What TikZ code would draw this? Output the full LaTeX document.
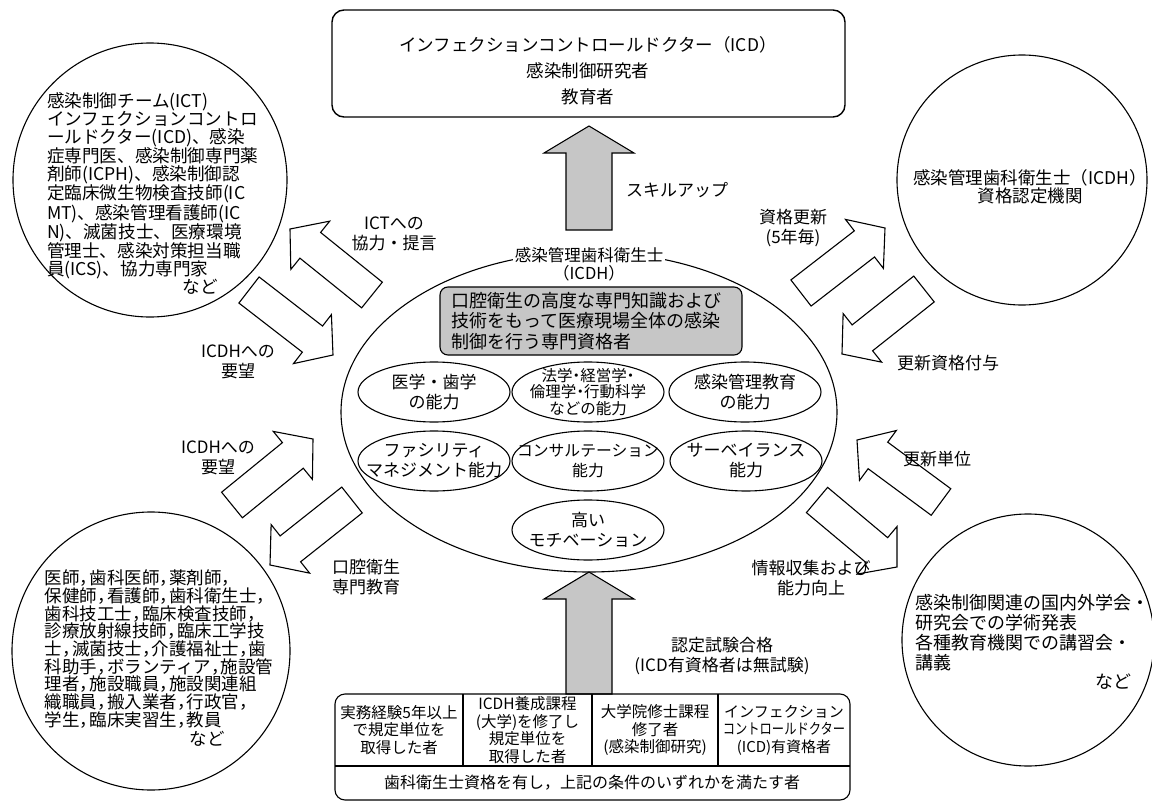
\documentclass[tikz,border=0pt]{standalone}
\usepackage{fontspec}
\usepackage{graphicx}
\setmainfont{Noto Sans CJK JP}
\usetikzlibrary{shapes.geometric,calc}
\newcommand\fsz[2]{\fontsize{#1}{#2}\selectfont}
\newcommand\nc{\makebox[0.55em][l]{，}}
\newcommand\nd{\makebox[0.5em][c]{・}}
% #1 style, #2 tail, #3 tip, #4 shaft half width, #5 head half width, #6 head length
\newcommand\blockarrow[6]{%
  \path ($(#3)!#6!(#2)$) coordinate (#2-hb);
  \draw[#1] ($(#2)!#4!90:(#3)$) -- ($(#2-hb)!#4!90:(#3)$) -- ($(#2-hb)!#5!90:(#3)$)
    -- (#3) -- ($(#2-hb)!#5!-90:(#3)$) -- ($(#2-hb)!#4!-90:(#3)$) -- ($(#2)!#4!-90:(#3)$) -- cycle;}
\begin{document}
\begin{tikzpicture}[x=1pt,y=-1pt,line width=1.1pt,
  every node/.style={inner sep=0pt,outer sep=0pt},
  lbl/.style={align=center,font=\fsz{17}{20}},
  txt/.style={align=left,anchor=west,font=\fsz{17.6}{17.8}},
  bigcirc/.style={circle,draw,minimum size=#1},
  smallell/.style={ellipse,draw,minimum width=152pt,minimum height=60pt},
  elltxt/.style={align=center,font=\fsz{17}{20}},
  blk/.style={draw,fill=white,line width=1.1pt,line join=miter},
  gblk/.style={draw,fill=gray!45,line width=1.1pt,line join=miter},
  celltxt/.style={align=center,font=\fsz{15.5}{17.8}}]
\fill[white] (0,0) rectangle (1152,803);
\useasboundingbox (0,0) rectangle (1152,803);

% top box
\node[draw,rounded corners=12pt,minimum width=513pt,minimum height=107pt,line width=1.4pt] (icd) at (588.5,63.5) {};
\node[lbl,font=\fsz{17.5}{26}] (icdtxt) at (588,71) {インフェクションコントロールドクター（ICD）\\感染制御研究者\\教育者};

% circles
\node[bigcirc=274pt] (tl) at (150,180) {};
\node[txt] (tltxt) at (47,186) {感染制御チーム(ICT)\\インフェクションコントロ\\ールドクター(ICD)、感染\\症専門医、感染制御専門薬\\剤師(ICPH)、感染制御認\\定臨床微生物検査技師(IC\\MT)、感染管理看護師(IC\\N)、滅菌技士、医療環境\\管理士、感染対策担当職\\員(ICS)、協力専門家};
\node[font=\fsz{17.6}{18}] (tlnado) at (200,287) {など};

\node[bigcirc=278pt] (bl) at (151,651) {};
\node[txt,font=\fsz{17.5}{17.7}] (bltxt) at (45,649) {医師\nc 歯科医師\nc 薬剤師\nc\\保健師\nc 看護師\nc 歯科衛生士\nc\\歯科技工士\nc 臨床検査技師\nc\\診療放射線技師\nc 臨床工学技\\士\nc 滅菌技士\nc 介護福祉士\nc 歯\\科助手\nc ボランティア\nc 施設管\\理者\nc 施設職員\nc 施設関連組\\織職員\nc 搬入業者\nc 行政官\nc\\学生\nc 臨床実習生\nc 教員};
\node[font=\fsz{17.5}{18}] (blnado) at (207,739) {など};

\node[bigcirc=250pt] (tr) at (1022,180) {};
\node[lbl,font=\fsz{17.5}{18}] (trtxt) at (1030,187) {感染管理歯科衛生士（ICDH）\\資格認定機関};

\node[bigcirc=252pt] (br) at (1028,640) {};
\node[txt,font=\fsz{18}{20}] (brtxt) at (915,633) {感染制御関連の国内外学会・\\研究会での学術発表\\各種教育機関での講習会・\\講義};
\node[font=\fsz{18}{18}] (brnado) at (1113,682) {など};

% central ellipse
\node[ellipse,draw,minimum width=496pt,minimum height=320pt] (core) at (589,412) {};
\node[lbl,fill=white,inner sep=2pt,font=\fsz{16.5}{18}] (icdh) at (589,264) {感染管理歯科衛生士\\（ICDH）};
\node[draw,fill=gray!45,rounded corners=8pt,minimum width=302pt,minimum height=68pt,text width=280pt,align=left,font=\fsz{18}{20.5}] (def) at (591,321) {口腔衛生の高度な専門知識および\\技術をもって医療現場全体の感染\\制御を行う専門資格者};

\node[smallell] (e1) at (434,392) {};
\node[smallell] (e2) at (588,392) {};
\node[smallell] (e3) at (745,392) {};
\node[smallell] (e4) at (434,461) {};
\node[smallell] (e5) at (588,461) {};
\node[smallell] (e6) at (746,461) {};
\node[smallell] (e7) at (588,530) {};
\node[elltxt] (t1) at (e1) {医学・歯学\\の能力};
\node[elltxt,font=\fsz{15.5}{16.5}] (t2) at (e2) {法学\nd 経営学\nd\\倫理学\nd 行動科学\\などの能力};
\node[elltxt] (t3) at (e3) {感染管理教育\\の能力};
\node[elltxt] (t4) at (e4) {ファシリティ\\マネジメント能力};
\node[elltxt,font=\fsz{15.8}{20}] (t5) at (e5) {コンサルテーション\\能力};
\node[elltxt] (t6) at (e6) {サーベイランス\\能力};
\node[elltxt] (t7) at (e7) {高い\\モチベーション};

% gray arrows
\coordinate (upT) at (589,230); \coordinate (upH) at (589,126);
\coordinate (dnT) at (589,694); \coordinate (dnH) at (589,572);
\blockarrow{gblk}{upT}{upH}{23pt}{45pt}{27pt}
\blockarrow{gblk}{dnT}{dnH}{23pt}{45pt}{27pt}

% outline arrows
\coordinate (aT) at (372,295); \coordinate (aH) at (290,229);
\coordinate (bT) at (249,290); \coordinate (bH) at (333,355);
\coordinate (cT) at (232,505); \coordinate (cH) at (313,439);
\coordinate (dT) at (352,500); \coordinate (dH) at (270,565);
\coordinate (eT) at (801,293); \coordinate (eH) at (885,228);
\coordinate (fT) at (924,289); \coordinate (fH) at (842,354);
\coordinate (gT) at (941,502); \coordinate (gH) at (857,440);
\coordinate (hT) at (817,500); \coordinate (hH) at (897,567);
\blockarrow{blk}{aT}{aH}{16.5pt}{31pt}{26pt}
\blockarrow{blk}{bT}{bH}{16.5pt}{31pt}{26pt}
\blockarrow{blk}{cT}{cH}{16.5pt}{31pt}{26pt}
\blockarrow{blk}{dT}{dH}{16.5pt}{31pt}{26pt}
\blockarrow{blk}{eT}{eH}{16.5pt}{31pt}{26pt}
\blockarrow{blk}{fT}{fH}{16.5pt}{31pt}{26pt}
\blockarrow{blk}{gT}{gH}{16.5pt}{31pt}{26pt}
\blockarrow{blk}{hT}{hH}{16.5pt}{31pt}{26pt}

% arrow labels
\node[lbl] (la) at (394,234) {ICTへの\\協力・提言};
\node[lbl] (lb) at (238,362) {ICDHへの\\要望};
\node[lbl] (lc) at (218,458) {ICDHへの\\要望};
\node[lbl] (ld) at (366,577) {口腔衛生\\専門教育};
\node[lbl] (le) at (793,228) {資格更新\\(5年毎)};
\node[lbl] (lf) at (948,363) {更新資格付与};
\node[lbl] (lg) at (937,459) {更新単位};
\node[lbl] (lh) at (811,578) {情報収集および\\能力向上};
\node[lbl] (lup) at (677,190) {スキルアップ};
\node[lbl] (ldn) at (722,656) {認定試験合格\\(ICD有資格者は無試験)};

% bottom table
\draw[rounded corners=10pt] (335,694) rectangle (850,800);
\draw (463,694) -- (463,766) (592,694) -- (592,766) (718,694) -- (718,766);
\draw (335,766) -- (850,766);
\node[celltxt] (c1) at (399,730) {実務経験5年以上\\で規定単位を\\取得した者};
\node[celltxt] (c2) at (527.5,730) {ICDH養成課程\\(大学)を修了し\\規定単位を\\取得した者};
\node[celltxt] (c3) at (655,730) {大学院修士課程\\修了者\\(感染制御研究)};
\node[celltxt,font=\fsz{15}{17.5}] (c4) at (784,730) {インフェクション\\\scalebox{0.82}[1]{コントロールドクター}\\(ICD)有資格者};
\node[celltxt,font=\fsz{16}{18}] (c5) at (592,783) {歯科衛生士資格を有し，上記の条件のいずれかを満たす者};
\end{tikzpicture}
\end{document}
